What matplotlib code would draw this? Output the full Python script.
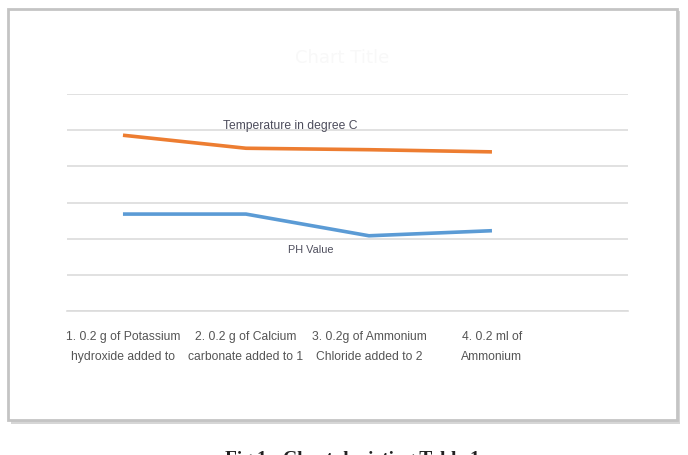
import matplotlib
matplotlib.use("Agg")
import matplotlib.pyplot as plt
from matplotlib.patches import Rectangle

# data
categories = [
    "1. 0.2 g of Potassium\nhydroxide added to",
    "2. 0.2 g of Calcium\ncarbonate added to 1",
    "3. 0.2g of Ammonium\nChloride added to 2",
    "4. 0.2 ml of\nAmmonium",
]
temperature = [24.3, 22.5, 22.3, 22.0]
ph_value = [13.4, 13.4, 10.4, 11.1]
yticks = [0, 5, 10, 15, 20, 25, 30]

W, H = 688, 456
fig = plt.figure(figsize=(W / 100, H / 100), dpi=100)
fig.patch.set_facecolor("white")

# frame of the screenshot, with a soft shadow
fig.patches.append(Rectangle((11 / W, 1 - 425 / H), 669 / W, 413 / H,
                             transform=fig.transFigure, facecolor="#d6d6d6",
                             edgecolor="none", zorder=0))
fig.patches.append(Rectangle((8 / W, 1 - 421 / H), 669 / W, 411 / H,
                             transform=fig.transFigure, facecolor="white",
                             edgecolor="#c4c4c4", linewidth=2, zorder=0.5))

ax = fig.add_axes([67 / W, 1 - 312 / H, 561 / W, 217 / H])
ax.set_zorder(2)
ax.set_facecolor("none")
x = list(range(len(categories)))

ax.plot(x, temperature, color="#ED7D31", linewidth=2.6, solid_capstyle="butt")
ax.plot(x, ph_value, color="#5B9BD5", linewidth=2.6, solid_capstyle="butt")

ax.set_xlim(-0.455, 4.106)
ax.set_ylim(0, 30)
ax.set_yticks(yticks)
ax.set_yticklabels([])
ax.tick_params(axis="y", length=0)
ax.grid(axis="y", color="#dcdcdc", linewidth=1.2)
ax.set_axisbelow(True)
for s in ["top", "right", "left"]:
    ax.spines[s].set_visible(False)
ax.spines["bottom"].set_color("#dcdcdc")
ax.spines["bottom"].set_linewidth(1.2)

ax.set_xticks(x)
ax.set_xticklabels(categories, color="#555555", fontsize=8.7,
                   family=["Liberation Sans", "DejaVu Sans"],
                   linespacing=1.85)
ax.tick_params(axis="x", length=0, pad=14)

ax.text(1.36, 25.7, "Temperature in degree C", color="#4d4d5c", fontsize=8.7,
        ha="center", va="center", family=["Liberation Sans", "DejaVu Sans"])
ax.text(1.53, 8.6, "PH Value", color="#4d4d5c", fontsize=7.8,
        ha="center", va="center", family=["Liberation Sans", "DejaVu Sans"])

fig.text(342 / W, 1 - 58 / H, "Chart Title", color="#f8f8f8", fontsize=13,
         ha="center", va="center")

fig.text(352 / W, 1 - 451 / H, "Fig 1 : Chart depicting Table 1",
         color="#222222", fontsize=14, fontweight="bold",
         family=["Liberation Serif", "DejaVu Serif"], ha="center", va="top")

fig.savefig("out.png", dpi=100)
